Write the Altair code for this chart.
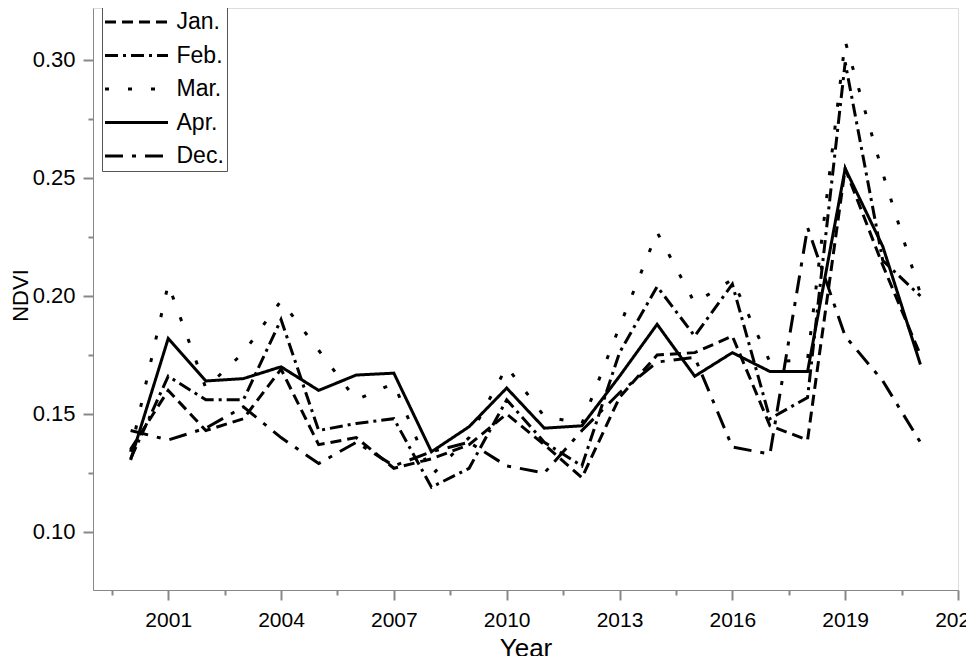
import altair as alt
import pandas as pd

years = list(range(2000, 2022))
series_names = ["Jan.", "Feb.", "Mar.", "Apr.", "Dec."]

jan = [0.135, 0.160, 0.143, 0.148, 0.169, 0.137, 0.140, 0.127, 0.131, 0.137, 0.150, 0.137,
       0.123, 0.157, 0.175, 0.176, 0.183, 0.145, 0.139, 0.254, 0.213, 0.175]
feb = [0.131, 0.166, 0.156, 0.156, 0.190, 0.143, 0.146, 0.148, 0.119, 0.127, 0.156, 0.138,
       0.128, 0.176, 0.204, 0.183, 0.205, 0.148, 0.157, 0.299, 0.215, 0.200]
mar = [0.134, 0.205, 0.161, 0.176, 0.198, 0.177, 0.156, 0.163, 0.124, 0.140, 0.170, 0.149,
       0.146, 0.187, 0.227, 0.197, 0.207, 0.172, 0.173, 0.308, 0.252, 0.201]
apr = [0.1305, 0.182, 0.164, 0.165, 0.170, 0.160, 0.1665, 0.1673, 0.134, 0.1446, 0.161, 0.144,
       0.145, 0.166, 0.188, 0.166, 0.176, 0.168, 0.168, 0.254, 0.221, 0.171]
dec = [0.143, 0.139, 0.144, 0.153, 0.140, 0.129, 0.138, 0.128, 0.134, 0.138, 0.128, 0.125,
       0.143, 0.159, 0.172, 0.174, 0.136, 0.133, 0.229, 0.183, 0.164, 0.138]

x_major = [2001, 2004, 2007, 2010, 2013, 2016, 2019, 2022]
x_minor = [1999.5, 2002.5, 2005.5, 2008.5, 2011.5, 2014.5, 2017.5, 2020.5]
y_major = [0.10, 0.15, 0.20, 0.25, 0.30]
y_minor = [0.125, 0.175, 0.225, 0.275]

dashes = [[11, 6], [13, 5, 3, 5], [4, 19], [1, 0], [18, 9, 4, 9]]

rows = []
for name, vals in zip(series_names, [jan, feb, mar, apr, dec]):
    for yr, v in zip(years, vals):
        rows.append({"Year": yr, "NDVI": v, "Month": name})
df = pd.DataFrame(rows)

FONT = "Liberation Sans"
x_scale = alt.Scale(domain=[1999, 2022], nice=False, zero=False)
y_scale = alt.Scale(domain=[0.07542, 0.32203], nice=False, zero=False)

lines = alt.Chart(df).mark_line(strokeWidth=3, color="black", clip=True).encode(
    x=alt.X("Year:Q", scale=x_scale,
            axis=alt.Axis(values=x_major, format="d", title="Year", orient="bottom",
                          tickSize=10, tickWidth=2, labelPadding=9, labelFlush=False,
                          labelFontSize=21, titleFontSize=26, titleFontWeight="normal",
                          titleY=58, titleBaseline="middle", grid=False)),
    y=alt.Y("NDVI:Q", scale=y_scale,
            axis=alt.Axis(values=y_major, format=".2f", title="NDVI", orient="left",
                          tickSize=10, tickWidth=2, labelPadding=8, labelFlush=False,
                          labelFontSize=22, titleFontSize=22, titleFontWeight="normal",
                          titleX=-73, titleY=287, titleAlign="center",
                          titleBaseline="middle", grid=False)),
    strokeDash=alt.StrokeDash(
        "Month:N",
        scale=alt.Scale(domain=series_names, range=dashes),
        sort=series_names,
        legend=alt.Legend(title=None, orient="none", legendX=9, legendY=-1,
                          padding=3, strokeColor="#555555", fillColor="white",
                          symbolType="M-3,0H3", symbolSize=441, symbolStrokeWidth=3,
                          symbolOffset=19.5, symbolStrokeColor="black",
                          labelFontSize=23, labelFont=FONT, labelColor="black",
                          labelOffset=28, rowPadding=9.5),
    ),
)

minor = alt.Chart(df).mark_point(opacity=0).encode(
    x=alt.X("Year:Q", scale=x_scale,
            axis=alt.Axis(values=x_minor, labels=False, title="", orient="bottom",
                          tickSize=5, tickWidth=2, domain=False, grid=False)),
    y=alt.Y("NDVI:Q", scale=y_scale,
            axis=alt.Axis(values=y_minor, labels=False, title="", orient="left",
                          tickSize=5, tickWidth=2, domain=False, grid=False)),
)

chart = alt.layer(minor, lines).resolve_axis(x="independent", y="independent").properties(
    width=865,
    height=582,
    padding={"left": 85, "top": 0, "right": 8, "bottom": 66},
    autosize=alt.AutoSizeParams(type="none"),
).configure_view(
    stroke="black", strokeWidth=1.5
).configure_axis(
    domainColor="black", domainWidth=2, tickColor="black", labelColor="black",
    titleColor="black", labelFont=FONT, titleFont=FONT
).configure(background="white")

chart.save("out.html", embed_options={"renderer": "svg", "actions": False})
